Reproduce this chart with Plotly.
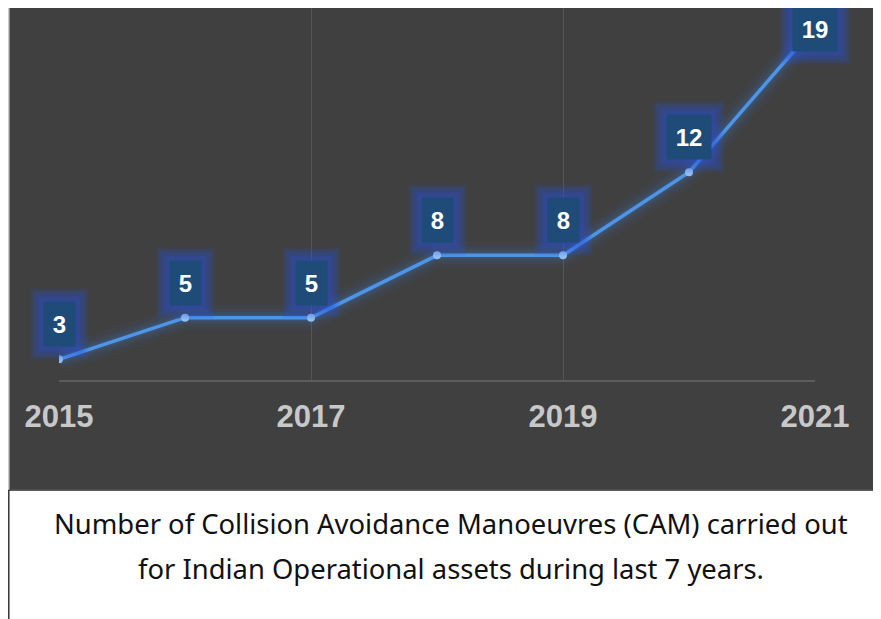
import plotly.graph_objects as go

# données
years = [2015, 2016, 2017, 2018, 2019, 2020, 2021]
cam_count = [3, 5, 5, 8, 8, 12, 19]
tick_years = [2015, 2017, 2019, 2021]
caption_lines = [
    "Number of Collision Avoidance Manoeuvres (CAM) carried out",
    "for Indian Operational assets during last 7 years.",
]

# la page décale la figure de 8 px (marge du body) : on travaille en
# pixels de l'image de référence et on retire ce décalage
OFF = 8
W, H = 881 - OFF, 619 - OFF
L, R, T, B = 59 - OFF, 815 - OFF, 0, 380 - OFF  # zone de tracé (px figure)
PX_PER_UNIT = 20.78
Y0 = 2
Y1 = Y0 + (B - T) / PX_PER_UNIT


def px(x):
    return (x - OFF - L) / (R - L)


def py(y):
    return (B - (y - OFF)) / (B - T)


BG = "#404040"
LINE = "#4f95e6"
BOX = "#1e4b78"

fig = go.Figure()

# halo autour de la courbe
for width, alpha in ((26, 0.04), (18, 0.06), (12, 0.09), (7, 0.14)):
    fig.add_scatter(x=years, y=cam_count, mode="lines", hoverinfo="skip",
                    showlegend=False,
                    line=dict(color=f"rgba(60,130,235,{alpha})", width=width))
fig.add_scatter(x=years, y=cam_count, mode="lines+markers", showlegend=False,
                line=dict(color=LINE, width=3.5),
                marker=dict(color="#8fbdf0", size=8))

# étiquettes de valeurs (boîtes bleues avec halo)
top_box_center = 29 - OFF  # la boîte la plus haute reste dans le panneau
for yr, v in zip(years, cam_count):
    point_y = B - (v - Y0) * PX_PER_UNIT
    shift = min(35, point_y - top_box_center)
    n = len(str(v))
    bw, bh = 18 + 13 * n, 44
    for grow in (26, 22, 18, 14, 10, 6):
        fig.add_annotation(x=yr, y=v, yshift=shift, text=" ",
                           showarrow=False, bgcolor="rgba(40,85,225,0.12)",
                           borderpad=0, width=bw + grow, height=bh + grow,
                           font=dict(size=22, color="rgba(0,0,0,0)"))
    fig.add_annotation(x=yr, y=v, yshift=shift, text=f"<b>{v}</b>",
                       showarrow=False, bgcolor=BOX, borderpad=0,
                       width=bw, height=bh,
                       font=dict(size=24, color="white", family="Liberation Sans"))

# panneau sombre + zone légende
fig.add_shape(type="rect", xref="paper", yref="paper", layer="below",
              x0=px(8.8), x1=px(881 + 4), y0=py(490), y1=py(-5),
              fillcolor=BG, line=dict(color="#c8c8c8", width=1.5))
fig.add_shape(type="line", xref="paper", yref="paper",
              x0=px(8.8), x1=px(8.8), y0=py(490), y1=py(619 + 4),
              line=dict(color="#333333", width=1.5))
fig.add_shape(type="line", xref="paper", yref="paper",
              x0=px(8.8), x1=px(881 + 4), y0=py(490), y1=py(490),
              line=dict(color="#333333", width=1.5))

for i, txt in enumerate(caption_lines):
    fig.add_annotation(xref="paper", yref="paper", x=px(451), y=py(523 + 45 * i),
                       text=txt, showarrow=False, xanchor="center", yanchor="middle",
                       font=dict(size=27.4, color="#111111", family="Noto Sans"))

fig.update_layout(
    width=W, height=H, autosize=False,
    paper_bgcolor="white", plot_bgcolor=BG,
    margin=dict(l=L, r=W - R, t=T, b=H - B, pad=0),
    xaxis=dict(range=[2015, 2021], tickvals=tick_years,
               ticktext=[f"<b>{y}</b>" for y in tick_years],
               tickfont=dict(size=31, color="#c8c8c8", family="Liberation Sans"),
               showgrid=True, gridcolor="#555555", gridwidth=1,
               showline=True, linecolor="#5c5c5c", linewidth=2,
               ticks="outside", ticklen=8, tickcolor="rgba(0,0,0,0)",
               zeroline=False, fixedrange=True),
    yaxis=dict(range=[Y0, Y1], showgrid=False, showticklabels=False,
               zeroline=False, fixedrange=True),
)

fig.write_html("out.html")
